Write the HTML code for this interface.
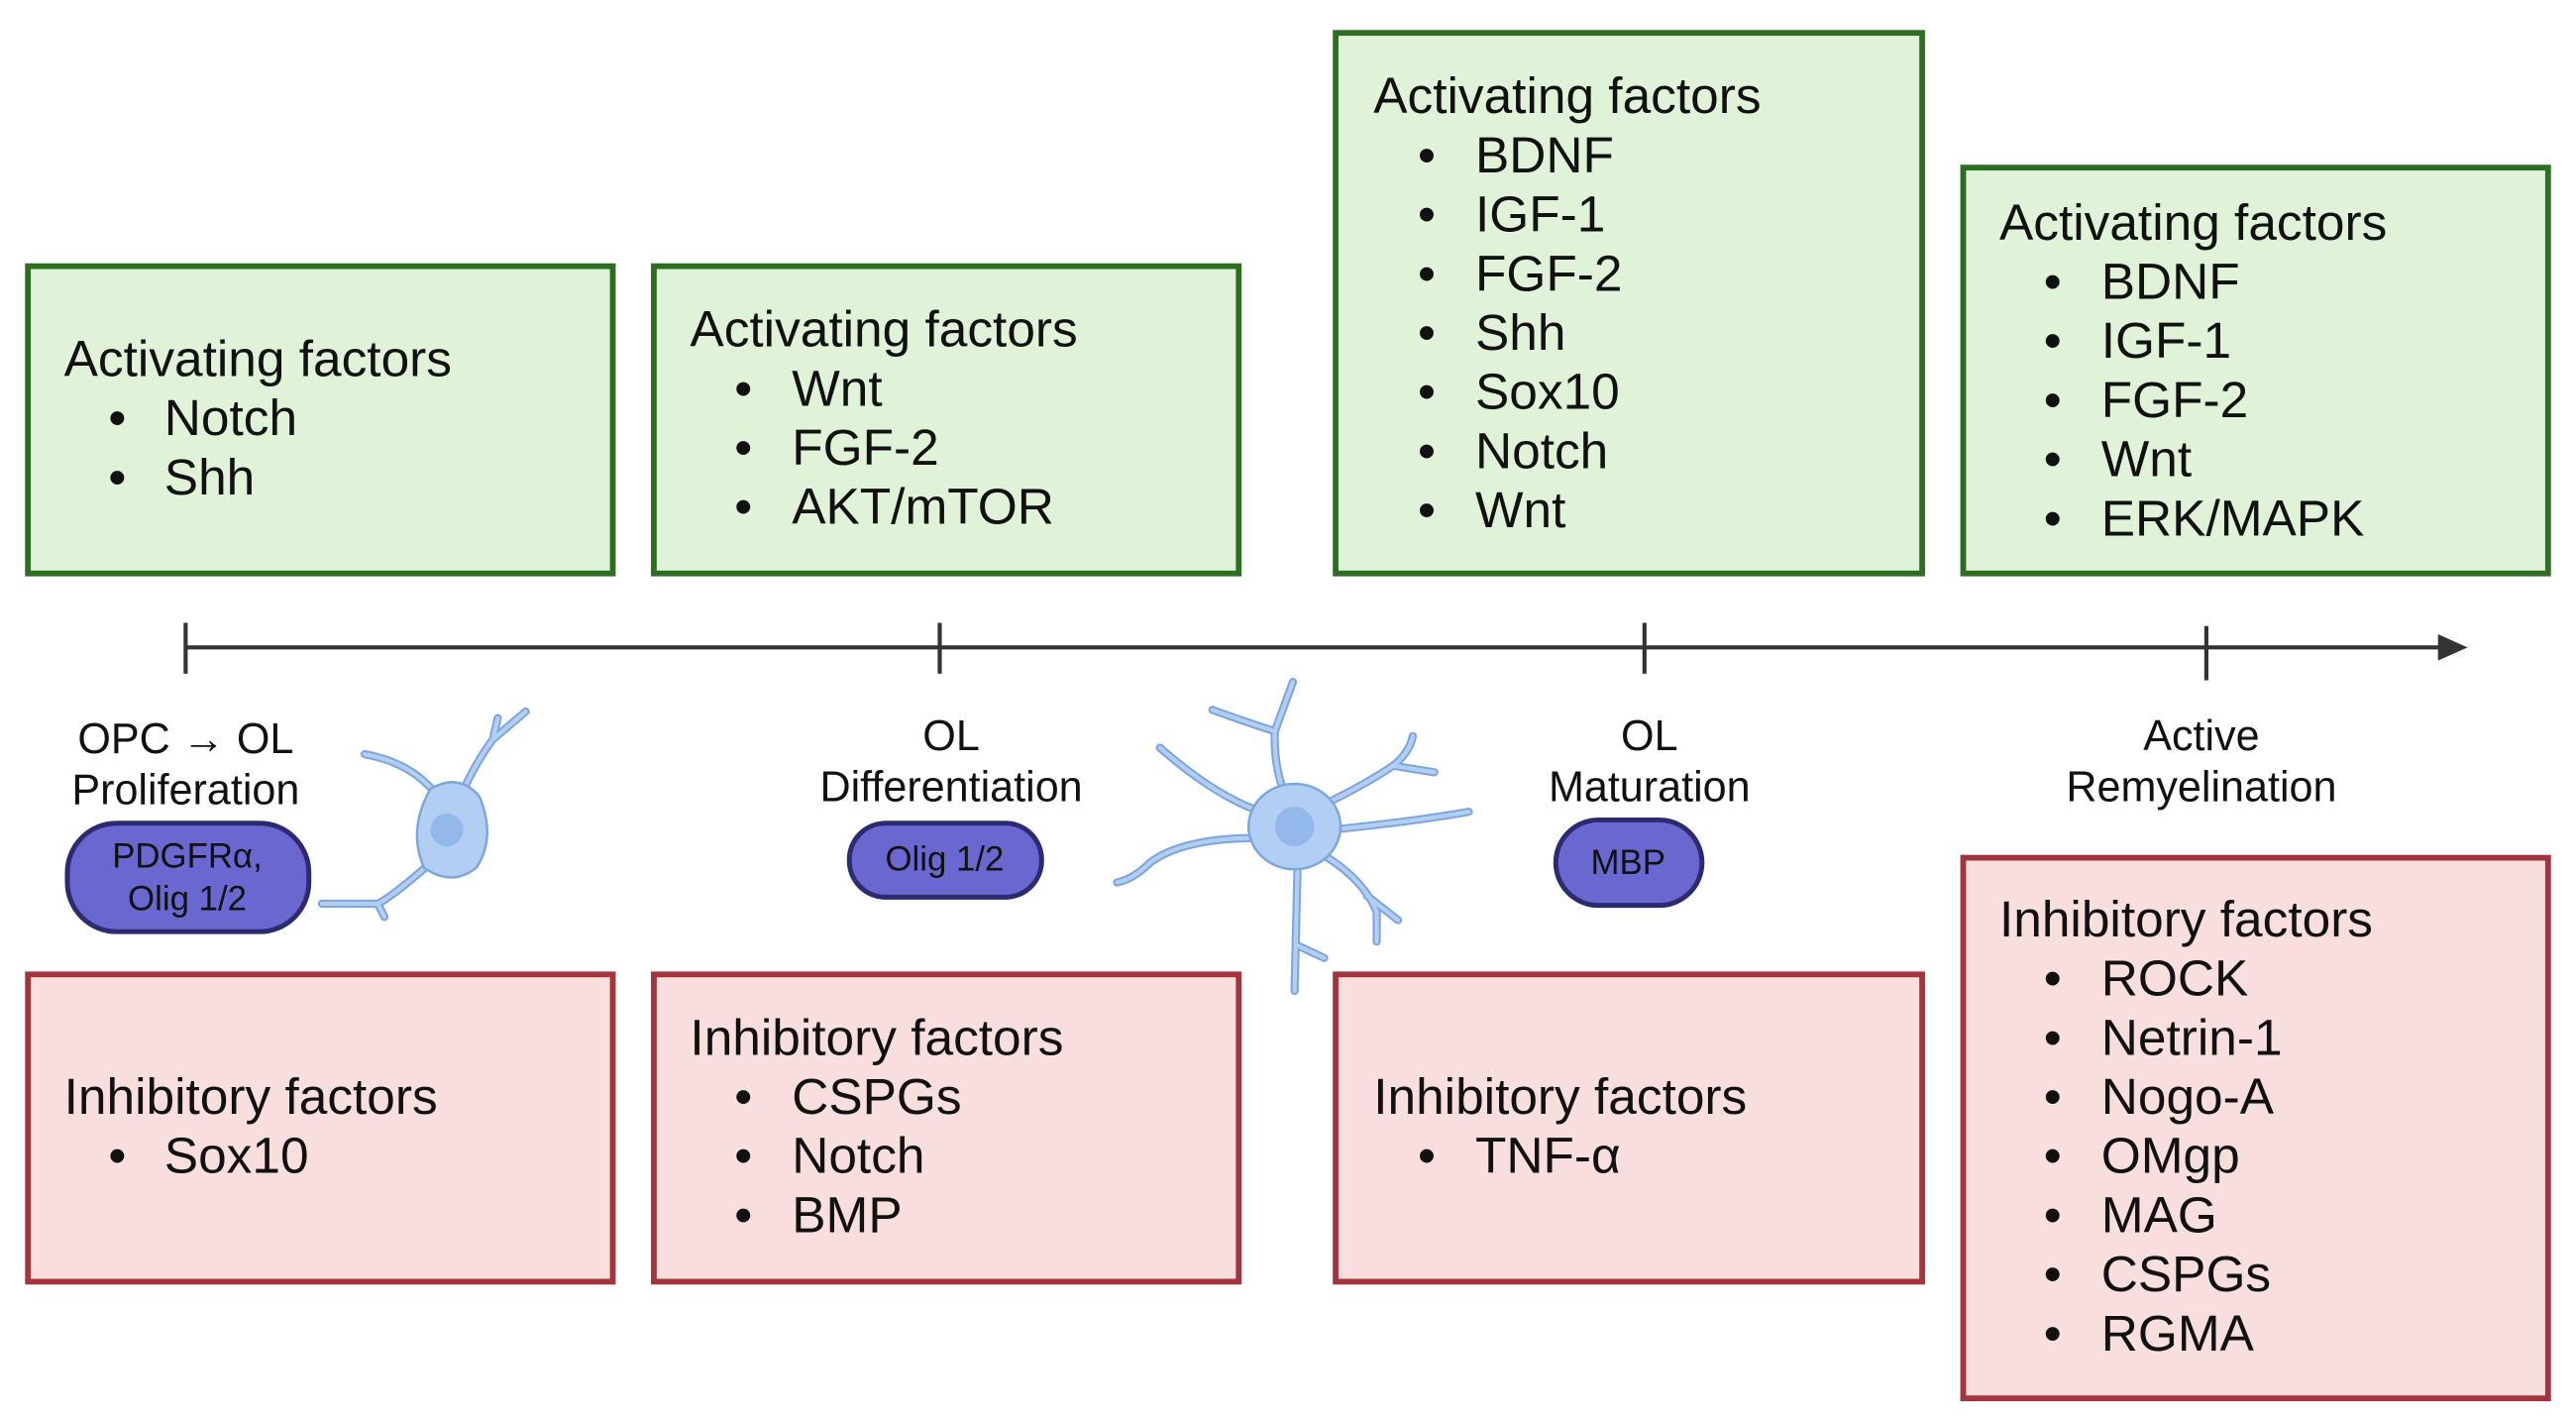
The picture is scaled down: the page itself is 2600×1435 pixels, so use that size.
<!DOCTYPE html>
<html><head><meta charset="utf-8"><style>
html,body{margin:0;padding:0;background:#fff;}
svg{display:block;}
text{font-family:"Liberation Sans",sans-serif;fill:#111;}
.t{font-size:31px;}
.l{font-size:26px;fill:#222;}
.p{font-size:21px;fill:#fff;}
</style></head><body>
<svg width="2600" height="1435" viewBox="0 0 1568 865.4" preserveAspectRatio="none" xmlns="http://www.w3.org/2000/svg">
<g fill="#e0f3d9" stroke="#2f6e22" stroke-width="3.5">
<rect x="17" y="162" width="356" height="187"/>
<rect x="398" y="162" width="356" height="187"/>
<rect x="813" y="20" width="357" height="329"/>
<rect x="1195" y="102" width="356" height="247"/>
</g>
<g fill="#f9dede" stroke="#a3343c" stroke-width="3.5">
<rect x="17" y="593" width="356" height="187"/>
<rect x="398" y="593" width="356" height="187"/>
<rect x="813" y="593" width="357" height="187"/>
<rect x="1195" y="522" width="356" height="329"/>
</g>
<g class="t" dominant-baseline="central">
<text x="39" y="218">Activating factors</text>
<text x="66" y="254">•</text><text x="100" y="254">Notch</text>
<text x="66" y="290">•</text><text x="100" y="290">Shh</text>
<text x="420" y="200">Activating factors</text>
<text x="447" y="236">•</text><text x="482" y="236">Wnt</text>
<text x="447" y="272">•</text><text x="482" y="272">FGF-2</text>
<text x="447" y="308">•</text><text x="482" y="308">AKT/mTOR</text>
<text x="836" y="58">Activating factors</text>
<text x="863" y="94">•</text><text x="898" y="94">BDNF</text>
<text x="863" y="130">•</text><text x="898" y="130">IGF-1</text>
<text x="863" y="166">•</text><text x="898" y="166">FGF-2</text>
<text x="863" y="202">•</text><text x="898" y="202">Shh</text>
<text x="863" y="238">•</text><text x="898" y="238">Sox10</text>
<text x="863" y="274">•</text><text x="898" y="274">Notch</text>
<text x="863" y="310">•</text><text x="898" y="310">Wnt</text>
<text x="1217" y="135">Activating factors</text>
<text x="1244" y="171">•</text><text x="1279" y="171">BDNF</text>
<text x="1244" y="207">•</text><text x="1279" y="207">IGF-1</text>
<text x="1244" y="243">•</text><text x="1279" y="243">FGF-2</text>
<text x="1244" y="279">•</text><text x="1279" y="279">Wnt</text>
<text x="1244" y="315">•</text><text x="1279" y="315">ERK/MAPK</text>
<text x="39" y="667">Inhibitory factors</text>
<text x="66" y="703">•</text><text x="100" y="703">Sox10</text>
<text x="420" y="631">Inhibitory factors</text>
<text x="447" y="667">•</text><text x="482" y="667">CSPGs</text>
<text x="447" y="703">•</text><text x="482" y="703">Notch</text>
<text x="447" y="739">•</text><text x="482" y="739">BMP</text>
<text x="836" y="667">Inhibitory factors</text>
<text x="863" y="703">•</text><text x="898" y="703">TNF-α</text>
<text x="1217" y="559">Inhibitory factors</text>
<text x="1244" y="595">•</text><text x="1279" y="595">ROCK</text>
<text x="1244" y="631">•</text><text x="1279" y="631">Netrin-1</text>
<text x="1244" y="667">•</text><text x="1279" y="667">Nogo-A</text>
<text x="1244" y="703">•</text><text x="1279" y="703">OMgp</text>
<text x="1244" y="739">•</text><text x="1279" y="739">MAG</text>
<text x="1244" y="775">•</text><text x="1279" y="775">CSPGs</text>
<text x="1244" y="811">•</text><text x="1279" y="811">RGMA</text>
</g>
<g stroke="#333" stroke-width="2.5">
<line x1="113" y1="394" x2="1488" y2="394"/>
<line x1="113" y1="379" x2="113" y2="410"/>
<line x1="572" y1="379" x2="572" y2="410"/>
<line x1="1001" y1="379" x2="1001" y2="410"/>
<line x1="1343" y1="381" x2="1343" y2="414"/>
</g>
<polygon points="1502,394 1484,386 1484,402" fill="#333"/>
<g class="l" text-anchor="middle" dominant-baseline="central">
<text x="113" y="450">OPC → OL</text>
<text x="113" y="481">Proliferation</text>
<text x="579" y="448">OL</text>
<text x="579" y="479">Differentiation</text>
<text x="1004" y="448">OL</text>
<text x="1004" y="479">Maturation</text>
<text x="1340" y="448">Active</text>
<text x="1340" y="479">Remyelination</text>
</g>
<g fill="#6a67d0" stroke="#2c2a70" stroke-width="3">
<rect x="41" y="501" width="147" height="66" rx="30"/>
<rect x="517" y="501" width="117" height="45" rx="22"/>
<rect x="947" y="499" width="89" height="52" rx="26"/>
</g>
<g class="p" text-anchor="middle" dominant-baseline="central">
<text x="114" y="521">PDGFRα,</text>
<text x="114" y="547">Olig 1/2</text>
<text x="575" y="523">Olig 1/2</text>
<text x="991" y="525">MBP</text>
</g>
<g fill="none" stroke="#7fa6dc" stroke-width="5" stroke-linecap="round">
<path id="c2" d="M785 490 Q775 470 776 445 L787 415 M776 445 Q760 440 738 432 M770 495 Q740 485 706 455 M765 510 Q720 510 700 525 Q690 535 680 537 M805 490 Q830 478 848 466 Q858 458 860 448 M848 466 L873 470 M810 505 Q860 500 894 494 M805 520 Q830 535 838 555 L838 573 M832 545 L851 560 M790 520 L788 603 M789 575 L806 583"/>
<path d="M272 505 Q285 470 300 450 L320 433 M300 450 L303 437 M270 490 Q255 465 222 459 M268 520 Q240 545 230 550 L196 550 M230 550 L234 558"/>
</g>
<g fill="none" stroke="#b3cef3" stroke-width="2.5" stroke-linecap="round">
<path d="M785 490 Q775 470 776 445 L787 415 M776 445 Q760 440 738 432 M770 495 Q740 485 706 455 M765 510 Q720 510 700 525 Q690 535 680 537 M805 490 Q830 478 848 466 Q858 458 860 448 M848 466 L873 470 M810 505 Q860 500 894 494 M805 520 Q830 535 838 555 L838 573 M832 545 L851 560 M790 520 L788 603 M789 575 L806 583"/>
<path d="M272 505 Q285 470 300 450 L320 433 M300 450 L303 437 M270 490 Q255 465 222 459 M268 520 Q240 545 230 550 L196 550 M230 550 L234 558"/>
</g>
<ellipse cx="788" cy="503" rx="28" ry="26" fill="#b3cef3" stroke="#7fa6dc" stroke-width="1.5"/>
<circle cx="788" cy="503" r="12" fill="#93b8ea"/>
<path d="M262 480 Q280 470 292 485 Q302 510 290 528 Q275 540 258 528 Q248 505 262 480Z" fill="#b3cef3" stroke="#7fa6dc" stroke-width="1.5"/>
<circle cx="272" cy="505" r="10" fill="#93b8ea"/>
</svg>
</body></html>
